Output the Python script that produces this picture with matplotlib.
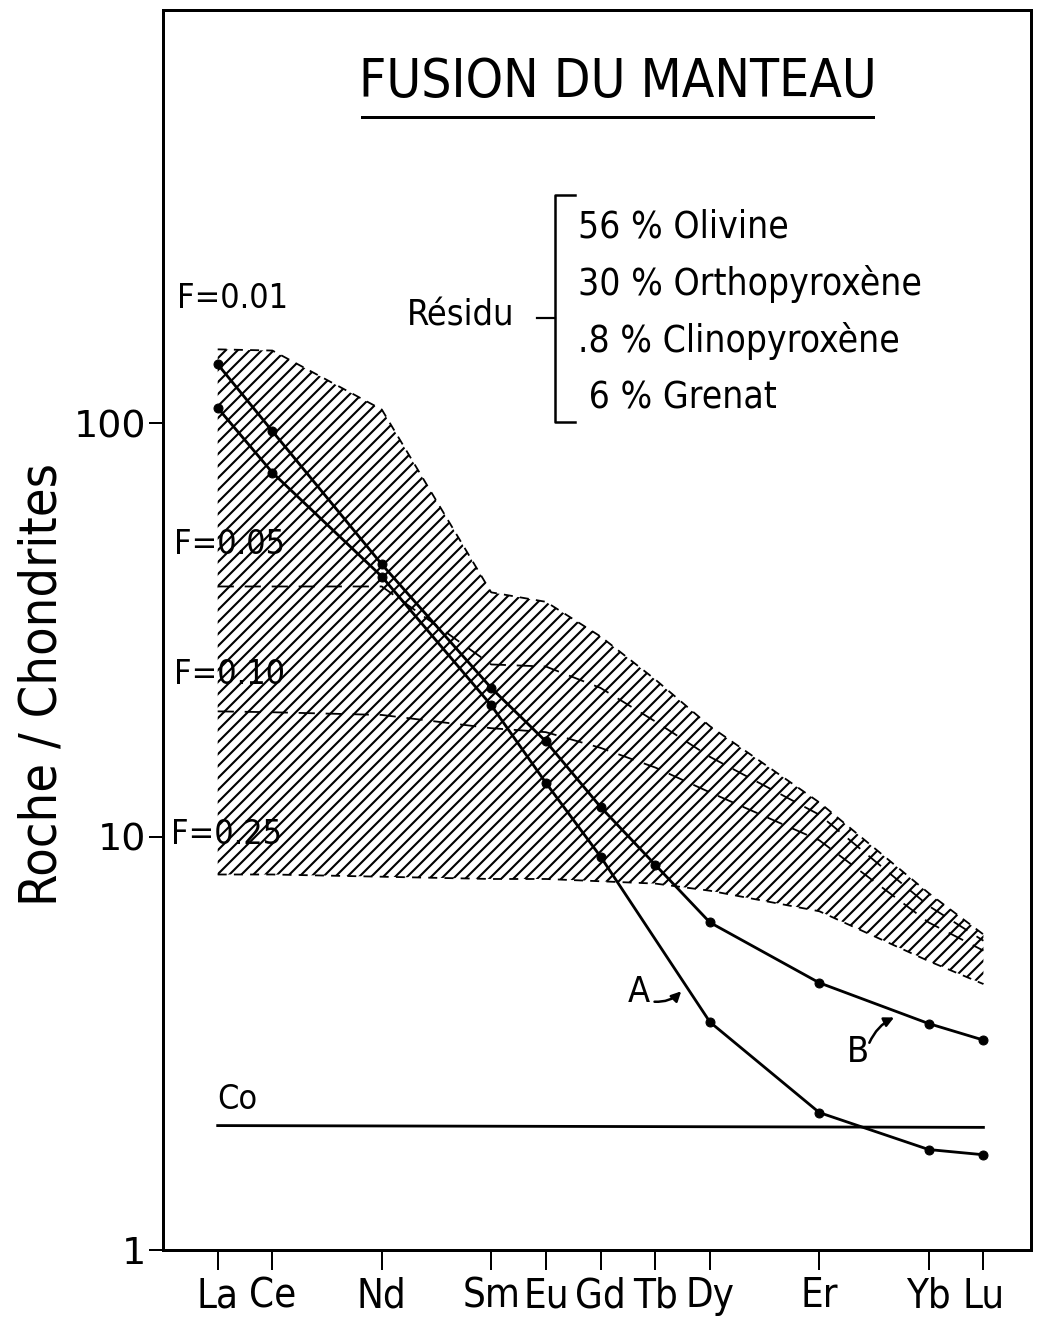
import matplotlib
matplotlib.use("Agg")
import matplotlib.pyplot as plt
from matplotlib import font_manager
from matplotlib.lines import Line2D

# REE: atomic numbers and labels
elements = ["La", "Ce", "Nd", "Sm", "Eu", "Gd", "Tb", "Dy", "Er", "Yb", "Lu"]
z = [57, 58, 60, 62, 63, 64, 65, 66, 68, 70, 71]

# Melting band envelope (F=0.01 upper, F=0.25 lower) and inner curves
f001 = [151, 150, 108, 39, 37, 30.5, 24, 18.5, 12.1, 7.3, 5.8]
f025 = [8.1, 8.1, 8.0, 7.9, 7.9, 7.8, 7.7, 7.4, 6.6, 5.0, 4.4]
f005 = [40.3, 40.3, 40.3, 26.1, 25.8, 22.9, 19.0, 15.6, 11.3, 6.8, 5.6]
f010 = [20.1, 20.0, 19.7, 18.3, 17.9, 16.4, 14.7, 12.8, 9.8, 6.2, 5.3]

# Rock patterns A and B (A has no Tb)
z_a = [57, 58, 60, 62, 63, 64, 66, 68, 70, 71]
rock_a = [109, 76, 42.6, 20.8, 13.5, 8.95, 3.56, 2.15, 1.75, 1.70]
z_b = [57, 58, 60, 62, 63, 64, 65, 66, 68, 70, 71]
rock_b = [139, 95.7, 45.6, 22.9, 17.0, 11.8, 8.55, 6.2, 4.43, 3.53, 3.22]

# Co reference level
z_co = [57, 71]
co = [2.0, 1.98]

residu = ["56 % Olivine", "30 % Orthopyroxène", ".8 % Clinopyroxène", " 6 % Grenat"]

names = {f.name for f in font_manager.fontManager.ttflist}
if "Liberation Sans Narrow" in names:
    cond = dict(family="Liberation Sans Narrow")
else:
    cond = dict(family="DejaVu Sans", stretch="condensed")
plt.rcParams["hatch.linewidth"] = 2.1

W, H = 1038, 1320
fig = plt.figure(figsize=(W / 72, H / 72), dpi=72)
ax = fig.add_axes([163 / W, 1 - 1250 / H, (1031 - 163) / W, (1250 - 10) / H])
ax.set_yscale("log")
ax.set_xlim(56.0, 71.87)
ax.set_ylim(1, 1000)

ax.fill_between(z, f025, f001, facecolor="white", edgecolor="black",
                hatch="//", linewidth=0)
ax.plot(z, f001, color="black", lw=1.8, ls=(0, (5, 4)))
ax.plot(z, f025, color="black", lw=1.8, ls=(0, (5, 4)))
ax.plot(z, f005, color="black", lw=1.8, ls=(0, (9, 6)))
ax.plot(z, f010, color="black", lw=1.8, ls=(0, (9, 6)))

ax.plot(z_a, rock_a, color="black", lw=2.8, marker="o", ms=9)
ax.plot(z_b, rock_b, color="black", lw=2.8, marker="o", ms=9)
ax.plot(z_co, co, color="black", lw=2.8)

# labels inside the plot
lab = dict(fontsize=34, color="black", **cond)
ax.text(56.25, 200, "F=0.01", va="center", **lab)
ax.text(56.2, 51, "F=0.05", va="center", **lab)
ax.text(56.2, 24.7, "F=0.10", va="center", **lab)
ax.text(56.15, 10.1, "F=0.25", va="center", **lab)
ax.text(57.0, 2.31, "Co", va="center", **lab)
ax.text(64.7, 4.2, "A", va="center", ha="center", fontsize=36, **cond)
ax.text(68.7, 3.02, "B", va="center", ha="center", fontsize=36, **cond)
ax.annotate("", xy=(65.5, 4.26), xytext=(64.95, 3.99),
            arrowprops=dict(arrowstyle="-|>", color="black", lw=2.5,
                            connectionstyle="arc3,rad=0.25", mutation_scale=20))
ax.annotate("", xy=(69.4, 3.67), xytext=(68.9, 3.14),
            arrowprops=dict(arrowstyle="-|>", color="black", lw=2.5,
                            connectionstyle="arc3,rad=-0.2", mutation_scale=20))

# axes styling
for s in ax.spines.values():
    s.set_linewidth(3)
ax.set_xticks(z)
ax.set_xticklabels(elements, fontsize=40, **cond)
ax.tick_params(axis="x", length=20, width=2, pad=6)
ax.set_yticks([1, 10, 100])
ax.set_yticklabels(["1", "10", "100"], fontsize=38)
ax.yaxis.set_minor_locator(plt.NullLocator())
ax.tick_params(axis="y", length=14, width=2, pad=3)
ax.set_ylabel("Roche / Chondrites", fontsize=52, **cond)
ax.yaxis.set_label_coords((68 - 163) / 868, (1250 - 685) / 1240)


def px(x, y):
    return x / W, 1 - y / H


# title with underline
fig.text(*px(618, 82), "FUSION DU MANTEAU", fontsize=53, ha="center",
         va="center", **cond)
fig.add_artist(Line2D([362 / W, 873 / W], [1 - 117 / H] * 2, color="black", lw=3))

# residue bracket
fig.text(*px(461, 316), "Résidu", fontsize=36, ha="center", va="center", **cond)
fig.add_artist(Line2D([537 / W, 555 / W], [1 - 318 / H] * 2, color="black", lw=2.2))
fig.add_artist(Line2D([575 / W, 555 / W, 555 / W, 575 / W],
                      [1 - 195 / H, 1 - 195 / H, 1 - 422 / H, 1 - 422 / H],
                      color="black", lw=2.5))
for i, t in enumerate(residu):
    fig.text(*px(578, 227 + i * 57), t, fontsize=37, ha="left", va="center", **cond)

fig.savefig("out.png", dpi=72)
